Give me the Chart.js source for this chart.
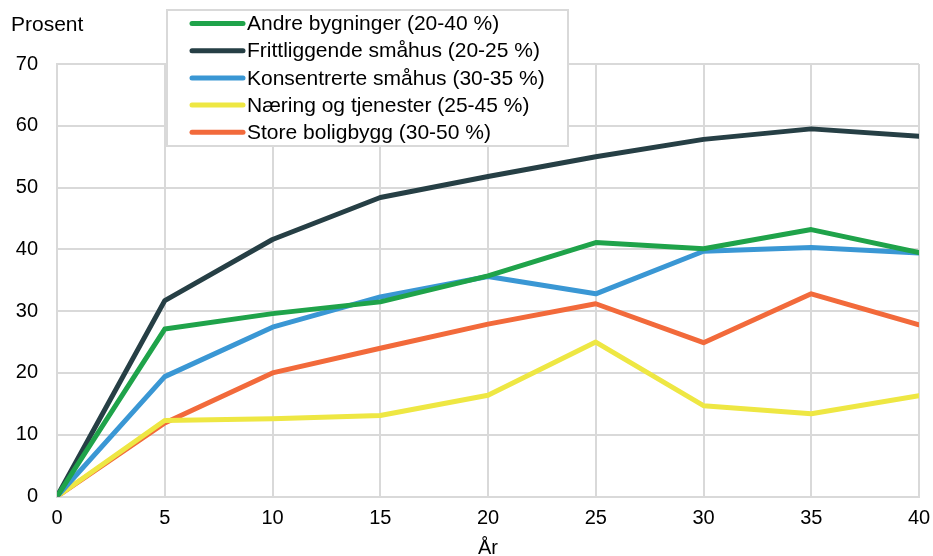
<!DOCTYPE html>
<html>
<head>
<meta charset="utf-8">
<script src="https://cdn.jsdelivr.net/npm/chart.js@4"></script>
<style>
  html, body { margin: 0; padding: 0; background: #fff; }
  #wrap { width: 933px; height: 556px; position: relative; }
</style>
</head>
<body>
<div id="wrap"><canvas id="c" width="933" height="556"></canvas></div>
<script>
// Years since start
const years = [0, 5, 10, 15, 20, 25, 30, 35, 40];

// Share (per cent) by building category
const andreBygninger      = [0, 27.1, 29.6, 31.5, 35.7, 41.1, 40.1, 43.2, 39.5];
const frittliggendeSmahus = [0, 31.7, 41.6, 48.4, 51.8, 55.0, 57.8, 59.5, 58.3];
const konsentrerteSmahus  = [0, 19.4, 27.4, 32.3, 35.6, 32.8, 39.7, 40.3, 39.4];
const naeringTjenester    = [0, 12.3, 12.6, 13.1, 16.4, 25.0, 14.7, 13.4, 16.3];
const storeBoligbygg      = [0, 11.9, 20.0, 24.0, 27.9, 31.2, 24.9, 32.8, 27.8];

const seriesLabels = [
  'Andre bygninger (20-40 %)',
  'Frittliggende småhus (20-25 %)',
  'Konsentrerte småhus (30-35 %)',
  'Næring og tjenester (25-45 %)',
  'Store boligbygg (30-50 %)'
];
const seriesColors = ['#1fa34a', '#263f45', '#3a97d4', '#eee743', '#f26a3b'];

const yTicks = [0, 10, 20, 30, 40, 50, 60, 70];
const xTicks = [0, 5, 10, 15, 20, 25, 30, 35, 40];

const FONT = 'Liberation Sans, Arial, Helvetica, sans-serif';

const seriesValues = [andreBygninger, frittliggendeSmahus, konsentrerteSmahus, naeringTjenester, storeBoligbygg];

const datasets = seriesValues.map((vals, i) => ({
  label: seriesLabels[i],
  data: years.map((x, j) => ({ x: x, y: vals[j] })),
  borderColor: seriesColors[i],
  backgroundColor: seriesColors[i],
  borderWidth: 5,
  pointRadius: 0,
  borderJoinStyle: 'round',
  borderCapStyle: 'round',
  tension: 0,
  fill: false
}));

// Boxed legend drawn inside the plot, plus the "Prosent" caption
const boxLegend = {
  id: 'boxLegend',
  afterDraw(chart) {
    const ctx = chart.ctx;
    ctx.save();
    ctx.fillStyle = '#000';
    ctx.font = '21px ' + FONT;
    ctx.textAlign = 'left';
    ctx.textBaseline = 'middle';
    ctx.fillText('Prosent', 11, 25);

    const bx = 167, by = 10, bw = 401, bh = 136;
    ctx.fillStyle = '#fff';
    ctx.fillRect(bx, by, bw, bh);
    ctx.strokeStyle = '#d9d9d9';
    ctx.lineWidth = 2;
    ctx.strokeRect(bx, by, bw, bh);

    chart.data.datasets.forEach((ds, i) => {
      const y = 23.5 + i * 27.2;
      ctx.strokeStyle = ds.borderColor;
      ctx.lineWidth = 5;
      ctx.lineCap = 'round';
      ctx.beginPath();
      ctx.moveTo(192, y);
      ctx.lineTo(243, y);
      ctx.stroke();
      ctx.fillStyle = '#000';
      ctx.font = '21px ' + FONT;
      ctx.fillText(ds.label, 247, y + 1);
    });
    ctx.restore();
  }
};

new Chart(document.getElementById('c'), {
  type: 'line',
  data: { datasets },
  options: {
    responsive: false,
    animation: false,
    layout: { padding: { left: 0, right: 14, top: 64, bottom: 0 } },
    plugins: { legend: { display: false }, tooltip: { enabled: false } },
    scales: {
      x: {
        type: 'linear',
        min: 0, max: 40,
        afterBuildTicks(scale) { scale.ticks = xTicks.map(v => ({ value: v })); },
        afterFit(scale) { scale.height = 59.5; scale.paddingRight = 0; scale.paddingLeft = 0; },
        grid: { color: '#d9d9d9', lineWidth: 2, drawTicks: false },
        border: { color: '#d9d9d9', width: 2 },
        ticks: { color: '#000', font: { family: FONT, size: 20 }, padding: 10, maxRotation: 0 },
        title: { display: true, text: 'År', color: '#000', font: { family: FONT, size: 20 }, padding: { top: 0, bottom: -4 } }
      },
      y: {
        min: 0, max: 70,
        afterBuildTicks(scale) { scale.ticks = yTicks.map(v => ({ value: v })); },
        afterFit(scale) { scale.width = 57; scale.paddingTop = 0; scale.paddingBottom = 0; },
        grid: { color: '#d9d9d9', lineWidth: 2, drawTicks: false },
        border: { color: '#d9d9d9', width: 2 },
        ticks: { color: '#000', font: { family: FONT, size: 20 }, padding: 19 }
      }
    }
  },
  plugins: [boxLegend]
});
</script>
</body>
</html>
